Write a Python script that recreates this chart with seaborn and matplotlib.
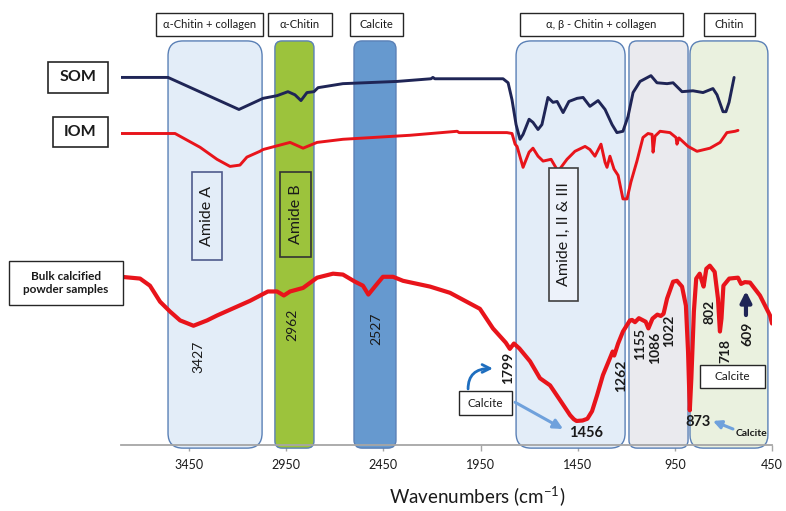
import matplotlib
matplotlib.use("Agg")
import matplotlib.pyplot as plt
import pandas as pd
import seaborn as sns
from matplotlib.patches import FancyBboxPatch, Rectangle

# ---------------- spectra (wavenumber in cm-1, offset transmittance in a.u.) ----------------
som_wn = [3800, 3558, 3193, 3069, 2997, 2941, 2905, 2874, 2843, 2807,
          2786, 2658, 2380, 2205, 2195, 2185, 1834, 1808, 1788, 1767,
          1747, 1731, 1700, 1680, 1654, 1634, 1603, 1577, 1556, 1525,
          1495, 1453, 1422, 1387, 1345, 1309, 1273, 1248, 1217, 1191,
          1165, 1129, 1073, 1042, 990, 959, 913, 857, 805, 754,
          733, 702, 687, 671, 645]
som_t = [82.6, 82.6, 75.4, 77.9, 78.5, 79.4, 78.7, 77.4, 79.2, 79.4,
         80.3, 81.2, 81.7, 82.3, 82.6, 82.3, 82.3, 81.4, 77.6, 72.0,
         68.7, 69.8, 73.2, 72.5, 70.9, 72.0, 78.1, 77.0, 77.2, 74.7,
         77.2, 77.9, 78.1, 76.1, 77.4, 75.4, 72.0, 70.2, 70.5, 73.8,
         79.2, 81.7, 83.0, 81.4, 81.2, 81.4, 79.4, 79.6, 79.2, 80.1,
         78.7, 74.9, 74.9, 77.0, 82.6]

iom_wn = [3800, 3522, 3393, 3306, 3239, 3188, 3152, 3085, 3069, 2930,
          2863, 2791, 2658, 2313, 2070, 2060, 1814, 1788, 1772, 1762,
          1731, 1700, 1680, 1654, 1628, 1587, 1551, 1505, 1464, 1412,
          1387, 1361, 1330, 1309, 1299, 1284, 1263, 1242, 1217, 1196,
          1176, 1145, 1114, 1088, 1067, 1062, 1052, 1026, 975, 944,
          939, 929, 882, 836, 769, 717, 682, 640, 625]
iom_t = [70.0, 70.0, 66.9, 64.2, 62.6, 62.9, 64.7, 66.0, 66.4, 68.0,
         66.7, 68.0, 68.7, 69.6, 70.5, 70.2, 70.2, 70.0, 67.6, 67.1,
         62.4, 65.8, 66.7, 64.9, 63.8, 64.2, 61.5, 64.2, 66.0, 67.1,
         66.4, 64.9, 67.6, 63.5, 62.4, 64.9, 62.0, 60.6, 55.3, 55.3,
         59.1, 63.8, 69.1, 70.0, 69.8, 65.8, 69.4, 70.5, 70.2, 69.1,
         67.6, 69.0, 67.1, 66.0, 66.7, 68.0, 70.2, 70.5, 70.7]

bulk_wn = [3800, 3702, 3651, 3599, 3548, 3496, 3427, 3357, 3306, 3203,
           3136, 3044, 2997, 2962, 2930, 2863, 2791, 2709, 2658, 2596,
           2555, 2527, 2490, 2452, 2400, 2349, 2210, 2107, 1953, 1886,
           1820, 1799, 1778, 1750, 1695, 1644, 1592, 1541, 1489, 1470,
           1456, 1425, 1400, 1376, 1350, 1320, 1284, 1270, 1262, 1242,
           1217, 1181, 1170, 1155, 1135, 1100, 1086, 1065, 1040, 1022,
           1008, 990, 959, 939, 913, 893, 882, 873, 865, 852,
           840, 822, 812, 802, 788, 770, 745, 728, 718, 710,
           700, 670, 625, 609, 590, 563, 512, 460, 450]
bulk_t = [37.8, 37.4, 35.8, 32.2, 30.0, 28.0, 26.8, 28.0, 29.1, 31.1,
          32.4, 34.5, 34.5, 33.6, 34.5, 35.3, 37.6, 38.5, 38.3, 36.7,
          35.8, 33.8, 35.8, 37.8, 37.8, 36.9, 35.6, 34.2, 30.6, 26.2,
          23.0, 21.6, 22.8, 21.7, 18.8, 15.0, 13.4, 10.1, 6.7, 5.8,
          5.4, 5.5, 5.9, 7.6, 11.2, 15.7, 19.5, 21.0, 20.1, 22.8,
          25.5, 28.0, 28.1, 27.6, 28.5, 27.7, 26.2, 28.4, 29.3, 29.0,
          29.5, 32.9, 36.7, 36.9, 35.6, 31.3, 21.0, 7.8, 15.0, 30.0,
          37.4, 38.5, 37.0, 35.6, 39.6, 40.3, 38.9, 32.9, 25.5, 28.4,
          35.8, 37.4, 37.6, 36.2, 36.6, 36.5, 33.6, 29.1, 27.3]

# assignment bands (high, low wavenumber) and their headings
band_hi = [3558, 3008, 2601, 1767, 1186, 872]
band_lo = [3074, 2807, 2385, 1206, 882, 471]
heading_text = ["α-Chitin + collagen", "α-Chitin", "Calcite",
                "α, β - Chitin + collagen", "Chitin"]
heading_hi = [3620, 3044, 2622, 1747, 800]
heading_lo = [3069, 2714, 2349, 908, 537]

# labelled absorption peaks of the bulk sample
peak_vertical = [3427, 2962, 2527, 1799, 1262, 1155, 1086, 1022, 802, 718, 609]
peak_horizontal = [1456, 873]

x_ticks = [3450, 2950, 2450, 1950, 1450, 950, 450]

# ---------------- styling ----------------
sns.set_theme(style="white")
plt.rcParams["font.family"] = ["Lato", "DejaVu Sans"]
plt.rcParams["mathtext.fontset"] = "custom"
plt.rcParams["mathtext.rm"] = "Lato"

NAVY = "#1F2556"
RED = "#E8141B"
LIGHT_BLUE = "#E3EDF8"
BAND_EDGE = "#5A80B6"
GREEN = "#9CC33C"
CALCITE = "#6699CF"
GREY = "#EAEAEE"
PALE_GREEN = "#EAF1DF"
ARROW_BLUE = "#6FA1DC"
CURL_BLUE = "#1E6EBF"

W, H = 786, 511
fig = plt.figure(figsize=(W / 100, H / 100), dpi=100)
ax_left, ax_bottom, ax_w, ax_h = 121, 66, 651, 445
ax = fig.add_axes([ax_left / W, ax_bottom / H, ax_w / W, ax_h / H])
ax.set_xlim(3800, 450)
ax.set_ylim(0, 100)

# aspect factor so rounded corners stay circular on screen
px_per_x = ax_w / 3350.0
px_per_y = ax_h / 100.0
aspect = px_per_x / px_per_y

band_faces = [LIGHT_BLUE, GREEN, CALCITE, LIGHT_BLUE, GREY, PALE_GREEN]
band_radius_px = [15, 7, 8, 15, 8, 13]
band_top, band_bottom = 90.8, -0.7
for hi, lo, face, rpx in zip(band_hi, band_lo, band_faces, band_radius_px):
    r = rpx / px_per_x
    patch = FancyBboxPatch((lo, band_bottom), hi - lo, band_top - band_bottom,
                           boxstyle=f"round,pad=0,rounding_size={r}",
                           mutation_aspect=aspect, facecolor=face,
                           edgecolor=BAND_EDGE, linewidth=1.0, zorder=1,
                           clip_on=False)
    ax.add_patch(patch)

# spectra
spectra = [
    (som_wn, som_t, NAVY, 2.1),
    (iom_wn, iom_t, RED, 2.1),
    (bulk_wn, bulk_t, RED, 3.0),
]
for wn, t, color, lw in spectra:
    df = pd.DataFrame({"wavenumber": wn, "signal": t})
    sns.lineplot(data=df, x="wavenumber", y="signal", sort=False,
                 estimator=None, color=color, linewidth=lw, ax=ax,
                 legend=False, zorder=3, solid_joinstyle="round",
                 solid_capstyle="round")


def boxed(x_hi, x_lo, y0, y1, text, size, rotation=0, weight="normal",
          face="white", edge="#262626", lw=1.0, clip=True):
    ax.add_patch(Rectangle((x_lo, y0), x_hi - x_lo, y1 - y0, facecolor=face,
                           edgecolor=edge, linewidth=lw, zorder=5,
                           clip_on=clip))
    ax.text((x_hi + x_lo) / 2, (y0 + y1) / 2, text, ha="center", va="center",
            rotation=rotation, fontsize=size, fontweight=weight,
            color="#1a1a1a", zorder=6, clip_on=clip)


# band headings along the top
for txt, hi, lo in zip(heading_text, heading_hi, heading_lo):
    boxed(hi, lo, 91.9, 97.1, txt, 8)

# sample names on the left
boxed(4176, 3867, 79.1, 86.1, "SOM", 11.5, weight="bold", lw=1.2, clip=False)
boxed(4150, 3867, 67.0, 73.7, "IOM", 11.5, weight="bold", lw=1.2, clip=False)
boxed(4376, 3790, 31.5, 41.3, "Bulk calcified\npowder samples", 8.5,
      weight="bold", lw=1.0, clip=False)

# vibration mode boxes inside the bands
boxed(3435, 3280, 41.5, 61.4, "Amide A", 11.5, rotation=90,
      face=LIGHT_BLUE, edge="#4F5B8C", lw=1.2)
boxed(2982, 2822, 42.2, 61.4, "Amide B", 11.5, rotation=90,
      face=GREEN, edge="#333333", lw=1.2)
boxed(1598, 1448, 32.3, 62.3, "Amide I, II & III", 11.5, rotation=90,
      face="#EDF2FA", edge="#404040", lw=1.2)
boxed(820, 486, 12.8, 17.9, "Calcite", 8.5, lw=1.0)
boxed(2061, 1788, 6.7, 12.1, "Calcite", 8.5, lw=1.0)

# peak positions
vert_pos = {3427: (3404, 19.7), 2962: (2920, 27.1), 2527: (2488, 26.2),
            1799: (1808, 17.3), 1262: (1227, 15.5), 1155: (1129, 22.6),
            1086: (1052, 21.9), 1022: (980, 25.6), 802: (774, 30.0),
            718: (692, 21.1), 609: (579, 25.0)}
bold_peaks = {1799, 1262, 1155, 1086, 1022, 802, 718, 609}
for p in peak_vertical:
    x, y = vert_pos[p]
    ax.text(x, y, str(p), rotation=90, ha="center", va="center",
            fontsize=10, fontweight="bold" if p in bold_peaks else "normal",
            color="#1a1a1a", zorder=6)
horiz_pos = {1456: (1407, 2.7), 873: (831, 5.2)}
for p in peak_horizontal:
    x, y = horiz_pos[p]
    ax.text(x, y, str(p), ha="center", va="center", fontsize=10.5,
            fontweight="bold", color="#1a1a1a", zorder=6)
ax.text(553, 2.5, "Calcite", ha="center", va="center", fontsize=7.5,
        fontweight="bold", color="#1a1a1a", zorder=6)

# arrows
ax.annotate("", xy=(1525, 3.6), xytext=(1772, 9.6),
            arrowprops=dict(arrowstyle="-|>", color=ARROW_BLUE, lw=2.2,
                            mutation_scale=14, shrinkA=0, shrinkB=0),
            zorder=6)
ax.annotate("", xy=(754, 5.4), xytext=(651, 3.6),
            arrowprops=dict(arrowstyle="-|>", color=ARROW_BLUE, lw=2.2,
                            mutation_scale=12, shrinkA=0, shrinkB=0),
            zorder=6)
ax.annotate("", xy=(1886, 17.2), xytext=(2014, 12.6),
            arrowprops=dict(arrowstyle="->", color=CURL_BLUE, lw=2.0,
                            mutation_scale=14, shrinkA=0, shrinkB=0,
                            connectionstyle="angle3,angleA=90,angleB=0"),
            zorder=6)
ax.annotate("", xy=(584, 34.6), xytext=(584, 29.2),
            arrowprops=dict(arrowstyle="-|>", color=NAVY, lw=3.0,
                            mutation_scale=16, shrinkA=0, shrinkB=0),
            zorder=6)

# axis cosmetics
for side in ("left", "top", "right"):
    ax.spines[side].set_visible(False)
ax.spines["bottom"].set_color("#A6A6A6")
ax.spines["bottom"].set_linewidth(1.3)
ax.spines["bottom"].set_zorder(4)
ax.set_yticks([])
ax.set_ylabel("")
ax.set_xlabel("")
ax.set_xticks(x_ticks)
ax.set_xticklabels([str(t) for t in x_ticks])
ax.tick_params(axis="x", direction="out", length=4, width=1, color="#A6A6A6",
               pad=6, labelsize=9, labelcolor="#1a1a1a", bottom=True)
ax.patch.set_alpha(0)

fig.text(477 / W, 1 - 497 / H, r"Wavenumbers (cm$^{\mathregular{-1}}$)",
         ha="center", va="center", fontsize=13.5, color="#1a1a1a")

fig.savefig("out.png", dpi=100)
